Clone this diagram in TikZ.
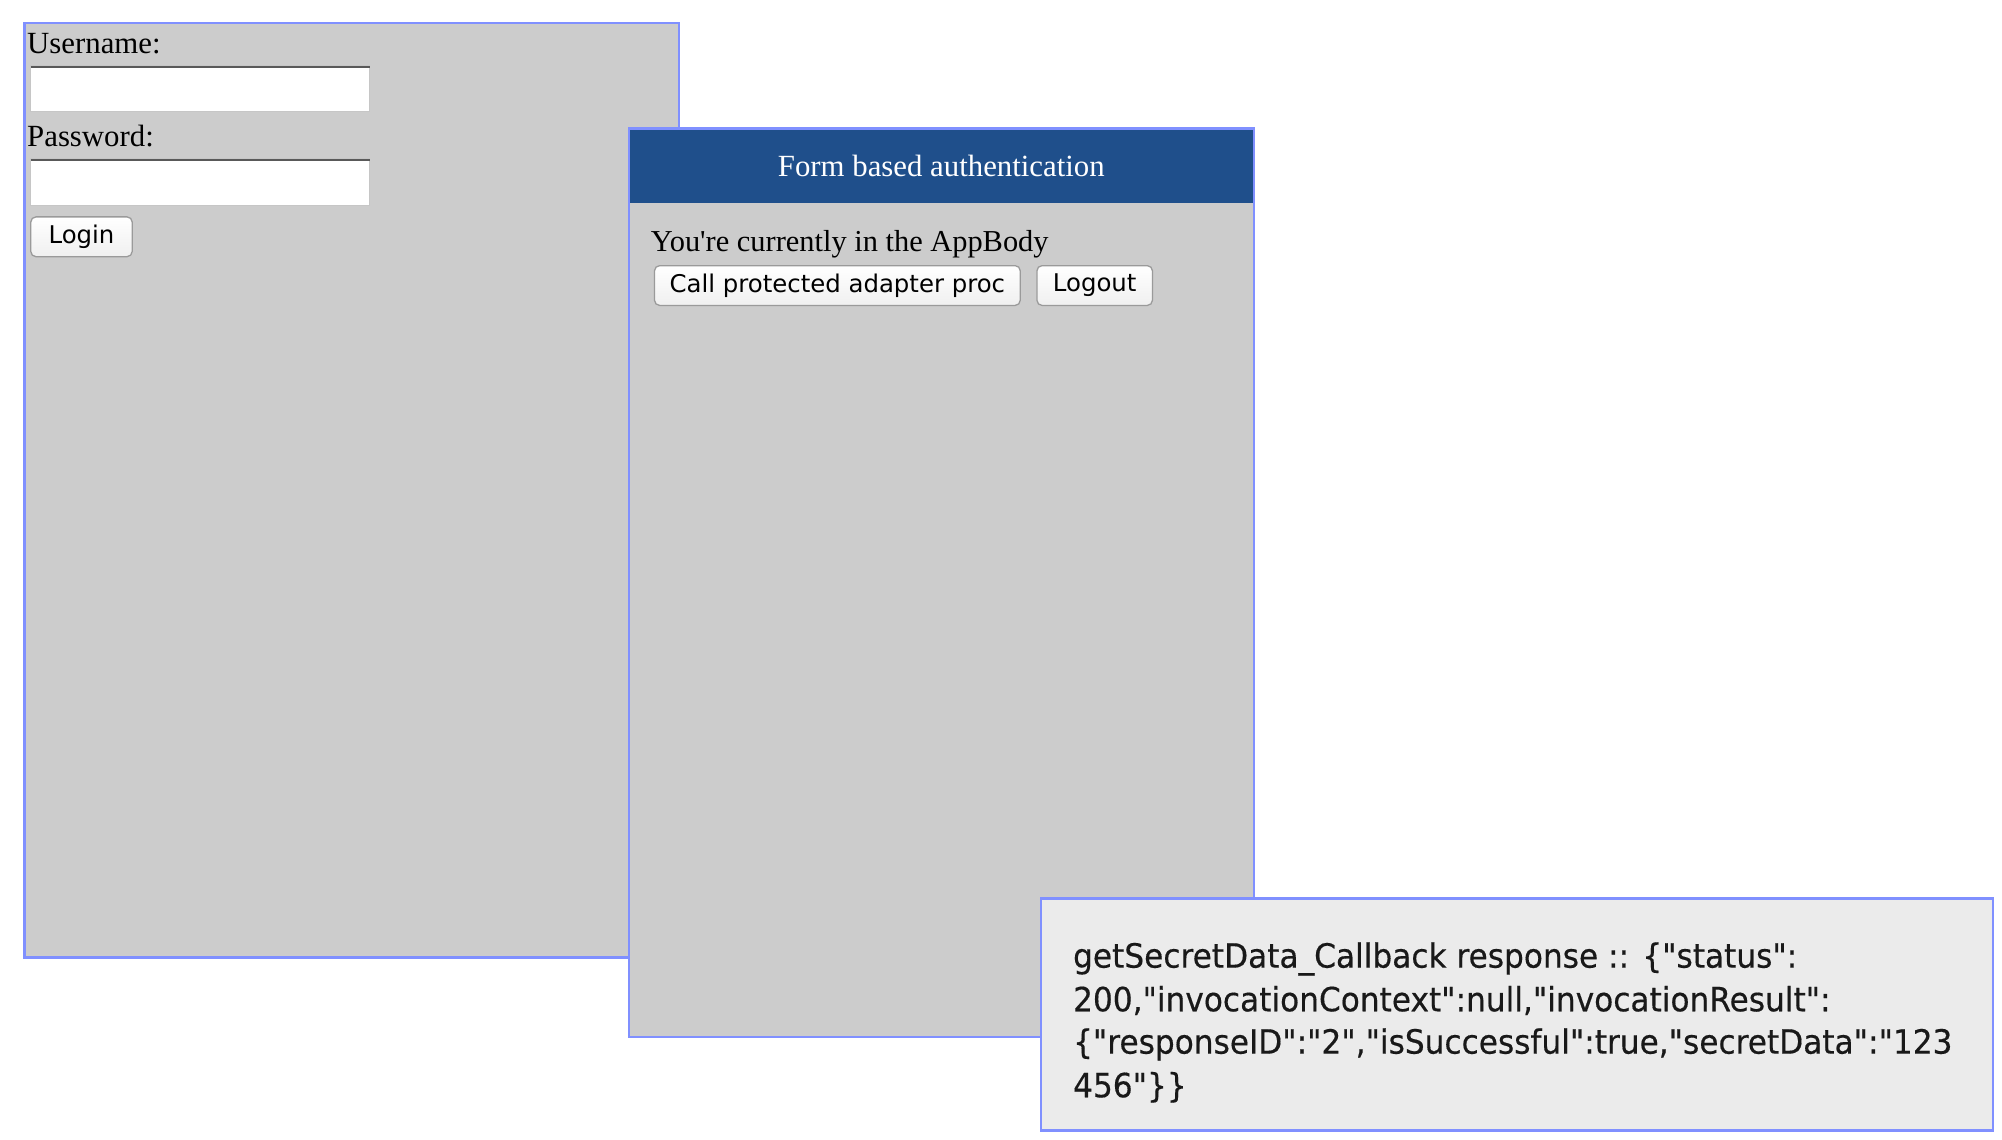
\documentclass[tikz,border=0pt]{standalone}
\usepackage{fontspec}
\setmainfont{Liberation Serif}[Ligatures=TeXOff]
\newfontfamily\btnfont{DejaVu Sans}
\newfontfamily\logfont[FakeStretch=0.935,FakeBold=0.4]{DejaVu Sans}
\definecolor{panelgray}{HTML}{CCCCCC}
\definecolor{panelborder}{HTML}{8090FF}
\definecolor{headblue}{HTML}{1F4F8B}
\definecolor{loggray}{HTML}{EBEBEB}
\definecolor{btnborder}{HTML}{9A9A9A}
\tikzset{
  panel/.style={draw=panelborder, line width=2pt, fill=panelgray},
  inputbox/.style={draw=gray!45, line width=1pt, fill=white},
  btn/.style={draw=btnborder, line width=1pt, rounded corners=4pt, top color=white, bottom color=gray!12, inner sep=0pt, font=\btnfont\fontsize{19}{22}\selectfont},
  serif/.style={font=\fontsize{24}{28}\selectfont, inner sep=0pt, anchor=base west},
  logline/.style={font=\logfont\fontsize{26}{30}\selectfont, inner sep=0pt, anchor=base west, text=black!90}
}
\begin{document}
\begin{tikzpicture}[x=1pt,y=-1pt]
\useasboundingbox[fill=white] (0,0) rectangle (1560,888.3);
% left login panel
\path[panel] (19,18) rectangle (529,746);
\node[serif] (user) at (21,42) {Username:};
\path[inputbox] (24,51) rectangle (288,87);
\draw[gray!70!black, line width=1.5pt] (24,52) -- (288,52);
\node[serif] (pass) at (21,114) {Password:};
\path[inputbox] (24,124) rectangle (288,160);
\draw[gray!70!black, line width=1.5pt] (24,125) -- (288,125);
\node[btn, minimum width=79pt, minimum height=31pt] (login) at (63.5,184.5) {Login};
% middle panel
\path[panel] (490,100) rectangle (977,808);
\path[fill=headblue] (491,101) rectangle (976,158);
\draw[panelborder, line width=2pt] (490,100) rectangle (977,808);
\node[font=\fontsize{24}{28}\selectfont, text=white, inner sep=0pt] (title) at (733.5,129) {Form based authentication};
\node[serif, font=\fontsize{23.7}{28}\selectfont] (body) at (507,196) {You're currently in the AppBody};
\node[btn, minimum width=285pt, minimum height=31pt] (call) at (652.5,222.5) {Call protected adapter proc};
\node[btn, minimum width=90pt, minimum height=31pt] (logout) at (853,222.5) {Logout};
% log panel
\path[draw=panelborder, line width=2pt, fill=loggray] (811,700) rectangle (1553,881);
\node[logline] (l1) at (836,754) {getSecretData\_Callback response :: \{"status":};
\node[logline] (l2) at (836,788) {200,"invocationContext":null,"invocationResult":};
\node[logline] (l3) at (836,821) {\{"responseID":"2","isSuccessful":true,"secretData":"123};
\node[logline] (l4) at (836,855) {456"\}\}};
\end{tikzpicture}
\end{document}
